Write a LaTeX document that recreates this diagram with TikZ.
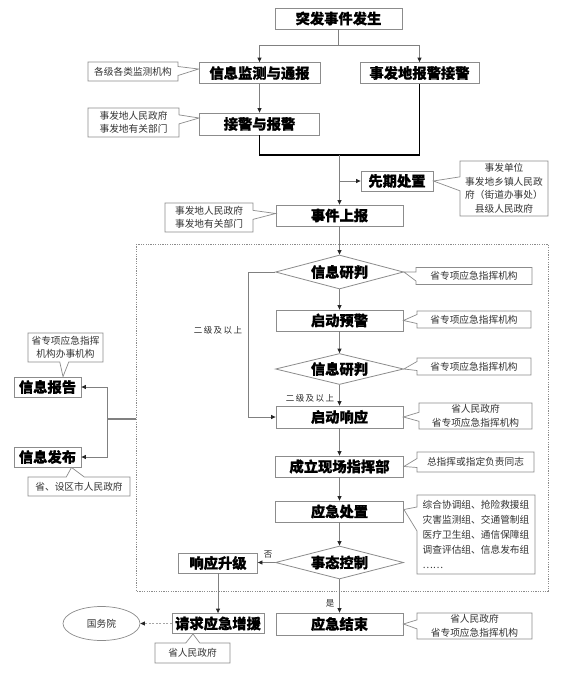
\documentclass[tikz,border=0pt]{standalone}
\usepackage{fontspec}
\setmainfont{Noto Sans CJK SC}[BoldFeatures={FakeBold=0.7}]
\usetikzlibrary{shapes.geometric,shapes.callouts,arrows.meta}
\definecolor{boxgray}{HTML}{8C8C8C}
\definecolor{linegray}{HTML}{808080}
\definecolor{notetext}{HTML}{333333}
\tikzset{
  mainb/.style 2 args={draw=boxgray, fill=white, line width=0.8pt, inner sep=0pt,
    minimum width=#1pt, minimum height=#2pt, text=black,
    font=\fontsize{14.3}{16}\selectfont\bfseries},
  dia/.style={diamond, aspect=3.8, draw=boxgray, fill=white, line width=0.8pt, inner sep=0pt,
    minimum width=128pt, minimum height=34pt, text=black,
    font=\fontsize{14.3}{16}\selectfont\bfseries},
  cnote/.style 2 args={rectangle callout, draw=boxgray, fill=white, line width=0.7pt, inner sep=0pt,
    minimum width=#1pt, minimum height=#2pt, align=center, text=notetext,
    callout pointer width=9pt, font=\fontsize{9.7}{13.5}\selectfont},
  conn/.style={draw=linegray, line width=0.8pt},
  arr/.style={-{Triangle[length=4.5pt,width=4pt,color=black!85]}},
  blackline/.style={draw=black, line width=1.3pt},
  lbl/.style={inner sep=0pt, text=black!85, font=\fontsize{8.5}{10}\selectfont}
}
\begin{document}
\begin{tikzpicture}[x=1pt,y=-1pt]
\fill[white] (0,0) rectangle (563,675);
\useasboundingbox (0,0) rectangle (563,675);

% dashed frame
\draw[draw=boxgray, line width=0.6pt, dash pattern=on 1.2pt off 1.2pt] (136,244) rectangle (548,591);

% main nodes
\node[mainb={127}{21}] (n1) at (338.5,18.5) {突发事件发生};
\node[mainb={121}{21}] (n2) at (259.5,73) {信息监测与通报};
\node[mainb={119}{21}] (n3) at (419.5,73) {事发地报警接警};
\node[mainb={120}{22}] (n4) at (259.5,124) {接警与报警};
\node[mainb={72}{20}] (n5) at (397,181) {先期处置};
\node[mainb={127}{21}] (n6) at (339.5,215.5) {事件上报};
\node[dia] (d1) at (339.5,272) {信息研判};
\node[mainb={127}{21}] (n7) at (339.5,320.5) {启动预警};
\node[dia, minimum height=31pt] (d2) at (339.5,369) {信息研判};
\node[mainb={127}{22}] (n8) at (339.5,417) {启动响应};
\node[mainb={128}{21}] (n9) at (339.5,466.5) {成立现场指挥部};
\node[mainb={128}{21}] (n10) at (339.5,511.5) {应急处置};
\node[dia, minimum height=33pt] (d3) at (339.5,562.5) {事态控制};
\node[mainb={79}{20}] (n11) at (218,563) {响应升级};
\node[mainb={127}{22}] (n12) at (339.5,624) {应急结束};
\node[mainb={92}{20}] (n13) at (218,623.5) {请求应急增援};
\node[ellipse, draw=boxgray, fill=white, line width=0.7pt, inner sep=0pt,
  minimum width=77pt, minimum height=34pt, text=notetext,
  font=\fontsize{9.7}{12}\selectfont] (gwy) at (101.5,623.5) {国务院};
\node[mainb={67}{20}] (n14) at (47.5,387) {信息报告};
\node[mainb={67}{20}] (n15) at (47.5,457) {信息发布};

% callouts
\node[cnote={90}{19}, callout absolute pointer={([yshift=4pt]n2.west)}] (c1) at (133,71.5) {各级各类监测机构};
\node[cnote={91}{29}, callout absolute pointer={([yshift=6pt]n4.west)}] (c2) at (133.5,122.5) {事发地人民政府\\事发地有关部门};
\node[cnote={88}{55}, callout pointer width=14pt, callout absolute pointer={(n5.east)}] (c3) at (504,188.5) {事发单位\\事发地乡镇人民政\\府（街道办事处）\\县级人民政府};
\node[cnote={88}{29}, callout absolute pointer={([yshift=2pt]n6.west)}] (c4) at (209,217.5) {事发地人民政府\\事发地有关部门};
\node[cnote={116}{17}, callout absolute pointer={(d1.east)}] (c5) at (474,276) {省专项应急指挥机构};
\node[cnote={114}{17}, callout absolute pointer={(n7.east)}] (c6) at (474,319.5) {省专项应急指挥机构};
\node[cnote={114}{17}, callout absolute pointer={(d2.east)}] (c7) at (474,366.5) {省专项应急指挥机构};
\node[cnote={113}{26}, callout absolute pointer={(n8.east)}] (c8) at (475.5,416) {省人民政府\\省专项应急指挥机构};
\node[cnote={117}{20}, callout absolute pointer={(n9.east)}] (c9) at (475.5,462) {总指挥或指定负责同志};
\node[cnote={118}{79}, align=left, callout pointer width=24pt, font=\fontsize{9.7}{15}\selectfont,
  callout absolute pointer={([yshift=2pt]n10.east)}] (c10) at (476,534.5)
  {综合协调组、抢险救援组\\灾害监测组、交通管制组\\医疗卫生组、通信保障组\\调查评估组、信息发布组\\……};
\node[cnote={115}{26}, callout absolute pointer={(n12.east)}] (c11) at (474.5,626) {省人民政府\\省专项应急指挥机构};
\node[cnote={75}{29}, callout absolute pointer={([xshift=15.5pt]n14.north)}] (c12) at (65.5,347.5) {省专项应急指挥\\机构办事机构};
\node[cnote={102}{19}, callout pointer width=18pt, callout absolute pointer={([xshift=24pt]n15.south)}] (c13) at (79,486.5) {省、设区市人民政府};
\node[cnote={75}{20}, callout pointer width=14pt, callout absolute pointer={([xshift=-25pt]n13.south)}] (c14) at (192.5,653) {省人民政府};

% connectors
\coordinate (j1) at (338.5,45);
\draw[conn] (n1.south) -- (j1);
\draw[conn,arr] (j1) -| (n2.north);
\draw[conn,arr] (j1) -| (n3.north);
\draw[conn,arr] (n2) -- (n4);
\coordinate (j2) at (339.5,155);
\draw[blackline] (n4.south) |- (j2) -| (n3.south);
\draw[conn,arr] (j2) -- (n6.north);
\draw[conn,arr] (n6.north |- n5.west) -- (n5.west);
\draw[conn,arr] (n6) -- (d1);
\draw[conn,arr] (d1) -- (n7);
\draw[conn,arr] (n7) -- (d2);
\draw[conn,arr] (d2) -- (n8);
\draw[conn,arr] (n8) -- (n9);
\draw[conn,arr] (n9) -- (n10);
\draw[conn,arr] (n10) -- (d3);
\draw[conn,arr] (d3) -- (n12);
\coordinate (lp) at (248,272);
\draw[conn,arr] (d1.west) -- (lp) |- (n8.west);
\draw[conn,arr] (d3.west) -- (d3.west -| n11.east);
\draw[conn,arr] (n11) -- (n13);
\draw[conn,arr,dash pattern=on 2pt off 1.5pt, draw=linegray!70] (n13.west) -- (gwy.east);
\coordinate (fl) at (136,419);
\coordinate (vb) at (107,419);
\draw[draw=linegray, line width=1.6pt] (fl) -- (vb);
\draw[conn,arr] (vb) |- (n14.east);
\draw[conn,arr] (vb) |- (n15.east);

% labels
\node[lbl] (t1) at (218,330) {二\,级\,及\,以\,上};
\node[lbl] (t2) at (310,398) {二\,级\,及\,以\,上};
\node[lbl] (t3) at (268,555) {否};
\node[lbl] (t4) at (330,603) {是};
\end{tikzpicture}
\end{document}
